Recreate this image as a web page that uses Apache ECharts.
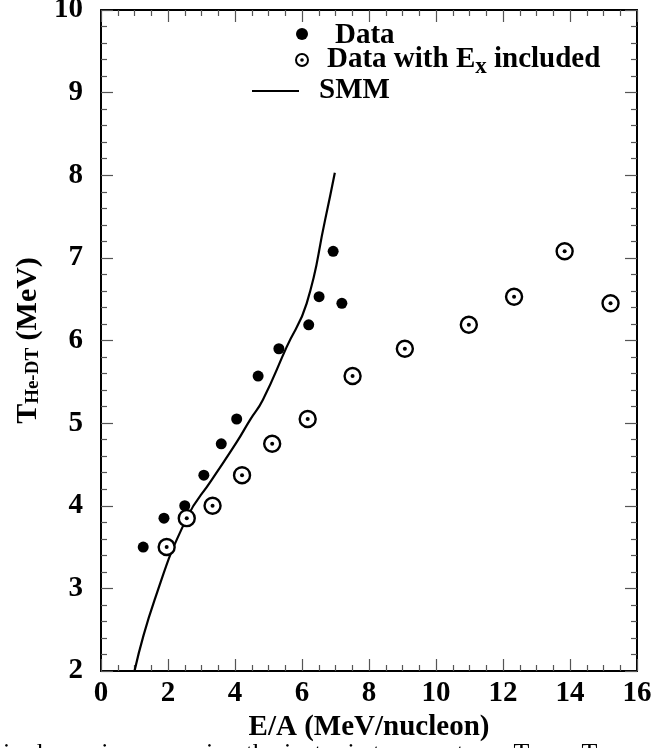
<!DOCTYPE html>
<html>
<head>
<meta charset="utf-8">
<script src="https://cdn.jsdelivr.net/npm/echarts@6/dist/echarts.min.js"></script>
<style>
html,body{margin:0;padding:0;background:#fff;}
#chart{width:656px;height:748px;}
</style>
</head>
<body>
<div id="chart"></div>
<script>
// Data
const dataX = [1.26, 1.88, 2.50, 3.07, 3.59, 4.05, 4.69, 5.31, 6.20, 6.51, 6.93, 7.19];
const dataT = [3.50, 3.85, 4.00, 4.37, 4.75, 5.05, 5.57, 5.90, 6.19, 6.53, 7.08, 6.45];
const exX   = [1.96, 2.56, 3.33, 4.21, 5.11, 6.17, 7.51, 9.07, 10.98, 12.33, 13.84, 15.21];
const exT   = [3.50, 3.85, 4.00, 4.37, 4.75, 5.05, 5.57, 5.90, 6.19, 6.53, 7.08, 6.45];
const smmX  = [1.00, 1.60, 2.56, 3.30, 4.05, 4.45, 4.83, 5.54, 6.14, 6.69, 6.98];
const smmT  = [2.00, 2.86, 3.85, 4.31, 4.77, 5.04, 5.28, 5.92, 6.45, 7.46, 8.03];
const xTicks = [0, 2, 4, 6, 8, 10, 12, 14, 16];
const yTicks = [2, 3, 4, 5, 6, 7, 8, 9, 10];

const zip = (a, b) => a.map((v, i) => [v, b[i]]);
const FONT = '"Liberation Serif", "DejaVu Serif", serif';

const chart = echarts.init(document.getElementById('chart'), null, {renderer: 'canvas'});

const tickCommon = {
  axisLine: {show: true, onZero: false, lineStyle: {color: '#000', width: 2}},
  axisTick: {show: true, inside: true, length: 12, lineStyle: {color: '#555', width: 1.2}},
  minorTick: {show: true, length: 6, lineStyle: {color: '#555', width: 1.2}},
  splitLine: {show: false},
  minorSplitLine: {show: false}
};

const option = {
  backgroundColor: '#fff',
  animation: false,
  grid: {left: 101, right: 19, top: 10, bottom: 77, containLabel: false, outerBoundsMode: 'none'},
  xAxis: [
    Object.assign({
      type: 'value', min: xTicks[0], max: xTicks[xTicks.length - 1], interval: 2,
      position: 'bottom',
      name: 'E/A (MeV/nucleon)', nameLocation: 'middle', nameGap: 31,
      nameTextStyle: {fontFamily: FONT, fontWeight: 'bold', fontSize: 29, color: '#000'},
      axisLabel: {fontFamily: FONT, fontWeight: 'bold', fontSize: 29, color: '#000', margin: 8}
    }, tickCommon, {minorTick: Object.assign({}, tickCommon.minorTick, {splitNumber: 4})}),
    Object.assign({
      type: 'value', min: xTicks[0], max: xTicks[xTicks.length - 1], interval: 2,
      position: 'top', axisLabel: {show: false}
    }, tickCommon, {minorTick: Object.assign({}, tickCommon.minorTick, {splitNumber: 4})})
  ],
  yAxis: [
    Object.assign({
      type: 'value', min: yTicks[0], max: yTicks[yTicks.length - 1], interval: 1,
      position: 'left',
      name: '{t|T}{s|He-DT}{t| (MeV)}', nameLocation: 'middle', nameGap: 54, nameRotate: 90,
      nameTextStyle: {
        fontFamily: FONT, fontWeight: 'bold', color: '#000',
        rich: {
          t: {fontFamily: FONT, fontWeight: 'bold', fontSize: 30, color: '#000', lineHeight: 32},
          s: {fontFamily: FONT, fontWeight: 'bold', fontSize: 19, color: '#000', lineHeight: 32, padding: [10, 0, 0, 0]}
        }
      },
      axisLabel: {fontFamily: FONT, fontWeight: 'bold', fontSize: 29, color: '#000', margin: 18}
    }, tickCommon, {minorTick: Object.assign({}, tickCommon.minorTick, {splitNumber: 5})}),
    Object.assign({
      type: 'value', min: yTicks[0], max: yTicks[yTicks.length - 1], interval: 1,
      position: 'right', axisLabel: {show: false}
    }, tickCommon, {minorTick: Object.assign({}, tickCommon.minorTick, {splitNumber: 5})})
  ],
  series: [
    {
      name: 'SMM', type: 'line', data: zip(smmX, smmT), smooth: 0.5,
      showSymbol: false, lineStyle: {color: '#000', width: 2.2}, z: 2
    },
    {
      name: 'Data', type: 'scatter', data: zip(dataX, dataT), symbol: 'circle', symbolSize: 11,
      itemStyle: {color: '#000', opacity: 1}, z: 3
    },
    {
      name: 'Data with Ex included', type: 'scatter', data: zip(exX, exT), symbol: 'circle', symbolSize: 16,
      itemStyle: {color: '#fff', borderColor: '#000', borderWidth: 2.4, opacity: 1}, z: 3
    },
    {
      name: 'Ex centre', type: 'scatter', data: zip(exX, exT), symbol: 'circle', symbolSize: 4,
      itemStyle: {color: '#000', opacity: 1}, z: 4, silent: true
    }
  ],
  graphic: [
    // legend
    {type: 'circle', shape: {cx: 302, cy: 34, r: 6}, style: {fill: '#000'}},
    {type: 'text', x: 335, y: 36, style: {text: 'Data', font: 'bold 29px ' + FONT, fill: '#000', verticalAlign: 'middle'}},
    {type: 'circle', shape: {cx: 302, cy: 60, r: 6}, style: {fill: '#fff', stroke: '#000', lineWidth: 2}},
    {type: 'circle', shape: {cx: 302, cy: 60, r: 1.8}, style: {fill: '#000'}},
    {type: 'text', x: 327, y: 60, style: {
      text: '{m|Data with E}{s|x}{m| included}', verticalAlign: 'middle',
      rich: {
        m: {font: 'bold 29px ' + FONT, fill: '#000', lineHeight: 30},
        s: {font: 'bold 23px ' + FONT, fill: '#000', lineHeight: 30, padding: [14, 0, 0, 0]}
      }
    }},
    {type: 'line', shape: {x1: 252, y1: 91, x2: 299, y2: 91}, style: {stroke: '#000', lineWidth: 2.2}},
    {type: 'text', x: 319, y: 91, style: {text: 'SMM', font: 'bold 29px ' + FONT, fill: '#000', verticalAlign: 'middle'}},
    // clipped caption line at the bottom of the picture
    {type: 'text', x: 3, y: 741, style: {text: 'is shown in comparing the isotopic temperatures T        T', font: '26px ' + FONT, fill: '#000', verticalAlign: 'top'}}
  ]
};

chart.setOption(option);
</script>
</body>
</html>
